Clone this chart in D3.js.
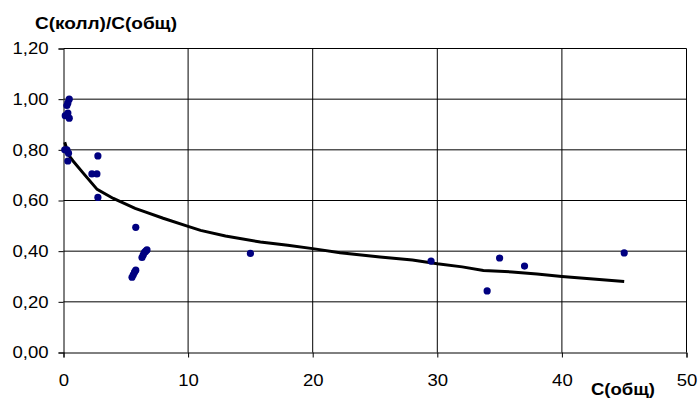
<!DOCTYPE html>
<html>
<head>
<meta charset="utf-8">
<script src="https://cdn.jsdelivr.net/npm/d3@7"></script>
<style>
  body { margin: 0; background: #fff; }
  svg { display: block; font-family: "Liberation Sans", Arial, sans-serif; }
</style>
</head>
<body>
<svg class="chart"></svg>
<script>
// measured points: C(общ) and C(колл)/C(общ)
const pointX = [0.46, 0.35, 0.27, 0.14, 0.46, 0.35, 0.27, 0.4, 0.35, 0.1,
  2.76, 2.28, 2.68, 2.76, 5.8,
  6.3, 6.4, 6.5, 6.6, 6.7,
  5.5, 5.6, 5.7, 5.8,
  15, 29.5, 35, 37, 34, 45];
const pointY = [1.00, 0.985, 0.975, 0.935, 0.925, 0.945, 0.80, 0.787, 0.756, 0.80,
  0.776, 0.705, 0.705, 0.612, 0.494,
  0.375, 0.385, 0.395, 0.40, 0.405,
  0.297, 0.307, 0.317, 0.325,
  0.391, 0.361, 0.373, 0.341, 0.243, 0.393];

// fitted curve
const curveX = [0.1, 0.4, 0.75, 1.6, 2.7, 4.0, 5.75, 6.55, 8, 10, 11, 13, 15.8, 18, 20,
  22.2, 25.4, 28, 30, 32, 33.7, 36, 38, 40, 42.5, 45];
const curveY = [0.83, 0.78, 0.757, 0.707, 0.644, 0.608, 0.569, 0.555, 0.53, 0.498, 0.482,
  0.46, 0.436, 0.423, 0.41, 0.394, 0.377, 0.365, 0.35, 0.338, 0.324, 0.318, 0.31, 0.30,
  0.29, 0.28];

const xTicks = [0, 10, 20, 30, 40, 50];
const yTicks = [0, 0.2, 0.4, 0.6, 0.8, 1.0, 1.2];

const width = 699, height = 401;
const margin = {top: 48.5, right: 12.5, bottom: 48.5, left: 63.5};

const svg = d3.select('.chart')
  .attr('width', width)
  .attr('height', height);

const x = d3.scaleLinear().domain([0, 50]).range([margin.left, width - margin.right]);
const y = d3.scaleLinear().domain([0, 1.2]).range([height - margin.bottom, margin.top]);

const fmt = d => d3.format('.2f')(d).replace('.', ',');

// grid
svg.append('g').selectAll('line').data(yTicks.slice(1))
  .enter().append('line')
  .attr('x1', x(0)).attr('x2', x(50))
  .attr('y1', d => y(d)).attr('y2', d => y(d))
  .attr('stroke', '#000');

svg.append('g').selectAll('line').data(xTicks.slice(1))
  .enter().append('line')
  .attr('x1', d => x(d)).attr('x2', d => x(d))
  .attr('y1', y(0)).attr('y2', y(1.2))
  .attr('stroke', '#000');

// axes
const xAxis = svg.append('g')
  .attr('transform', `translate(0,${y(0)})`)
  .call(d3.axisBottom(x).tickValues(xTicks).tickSize(5).tickPadding(16));
const yAxis = svg.append('g')
  .attr('transform', `translate(${x(0)},0)`)
  .call(d3.axisLeft(y).tickValues(yTicks).tickSize(5).tickPadding(10).tickFormat(fmt));

[xAxis, yAxis].forEach(a => {
  a.select('.domain').attr('stroke', '#000');
  a.selectAll('.tick line').attr('stroke', '#000');
  a.selectAll('.tick text')
    .attr('fill', '#000')
    .style('font-size', '17px')
    .style('font-family', '"Liberation Sans", Arial, sans-serif')
    .each(function() {
      // reference glyphs are a little wider than the font
      const w = this.getComputedTextLength();
      d3.select(this).attr('textLength', w * 1.09).attr('lengthAdjust', 'spacingAndGlyphs');
    });
});

// curve
const line = d3.line().x((d, i) => x(curveX[i])).y((d, i) => y(curveY[i]));
svg.append('path')
  .datum(curveX)
  .attr('d', line)
  .attr('fill', 'none')
  .attr('stroke', '#000')
  .attr('stroke-width', 3);

// points
svg.append('g').selectAll('circle').data(pointX)
  .enter().append('circle')
  .attr('cx', d => x(d))
  .attr('cy', (d, i) => y(pointY[i]))
  .attr('r', 3.6)
  .attr('fill', '#000080');

// titles
svg.append('text')
  .attr('x', 35).attr('y', 29)
  .attr('textLength', 142).attr('lengthAdjust', 'spacingAndGlyphs')
  .style('font-size', '16px').style('font-weight', 'bold')
  .text('С(колл)/С(общ)');

svg.append('text')
  .attr('x', 591).attr('y', 395)
  .attr('textLength', 64).attr('lengthAdjust', 'spacingAndGlyphs')
  .style('font-size', '16px').style('font-weight', 'bold')
  .text('С(общ)');
</script>
</body>
</html>
